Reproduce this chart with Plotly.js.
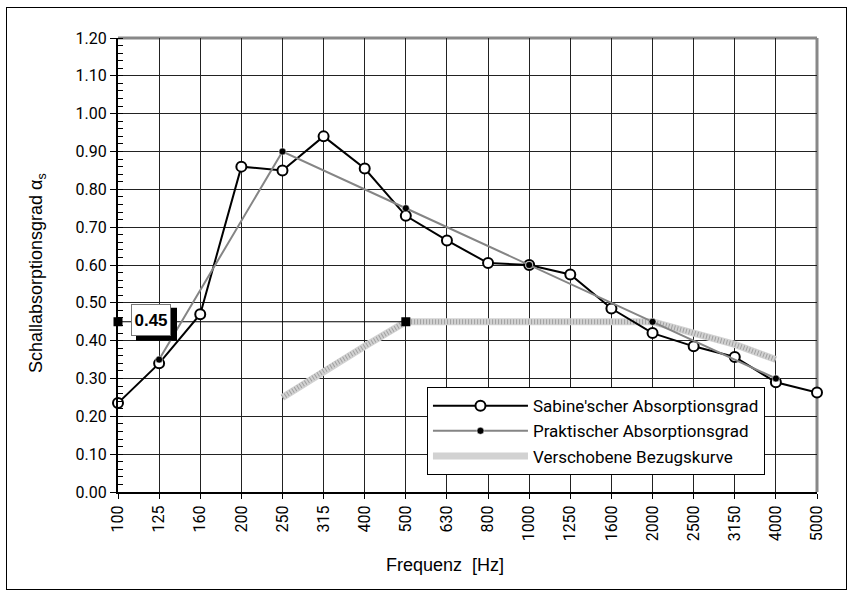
<!DOCTYPE html>
<html>
<head>
<meta charset="utf-8">
<script src="https://cdn.plot.ly/plotly-3.0.1.min.js"></script>
<style>
  html, body { margin:0; padding:0; background:#fff; }
  #wrap { position:relative; width:849px; height:592px; }
  #chart { position:absolute; left:0; top:0; width:849px; height:592px; }
  #frame { position:absolute; left:6px; top:7px; width:839px; height:581px; border:1px solid #000; pointer-events:none; }
</style>
</head>
<body>
<div id="wrap"><div id="chart"></div><div id="frame"></div></div>
<script>
// ---- data ----
const freqs = ['100','125','160','200','250','315','400','500','630','800','1000','1250','1600','2000','2500','3150','4000','5000'];
const sabineX = ['100','125','160','200','250','315','400','500','630','800','1000','1250','1600','2000','2500','3150','4000','5000'];
const sabineY = [0.235,0.34,0.47,0.86,0.85,0.94,0.855,0.73,0.665,0.605,0.60,0.575,0.485,0.42,0.385,0.357,0.29,0.263];
const praktX = ['125','250','500','1000','2000','4000'];
const praktY = [0.35,0.90,0.75,0.60,0.45,0.30];
const bezugX = ['250','315','400','500','630','800','1000','1250','1600','2000','2500','3150','4000'];
const bezugY = [0.25,0.32,0.385,0.45,0.45,0.45,0.45,0.45,0.45,0.45,0.42,0.39,0.35];
const refX = ['100','500'];
const refY = [0.45,0.45];
const refLabel = '0.45';
const yTicks = [0,0.1,0.2,0.3,0.4,0.5,0.6,0.7,0.8,0.9,1.0,1.1,1.2];

const narrow = 'Roboto, "Liberation Sans", sans-serif';
const arial = '"Liberation Sans", Arial, sans-serif';
const refIdx = freqs.indexOf(refX[0]);

const traces = [
  { x: bezugX, y: bezugY, type:'scatter', mode:'lines', name:'Verschobene Bezugskurve',
    line:{color:'#d2d2d2', width:7}, legendrank:3, cliponaxis:false },
  { x: bezugX, y: bezugY, type:'scatter', mode:'lines', showlegend:false, hoverinfo:'skip',
    line:{color:'#a0a0a0', width:5, dash:'1px,2px'}, cliponaxis:false },
  { x: refX, y: refY, type:'scatter', mode:'lines+markers', showlegend:false,
    line:{color:'#000', width:1}, marker:{symbol:'square', size:9, color:'#000'}, cliponaxis:false },
  { x: sabineX, y: sabineY, type:'scatter', mode:'lines+markers', name:"Sabine'scher Absorptionsgrad",
    line:{color:'#000', width:2}, marker:{symbol:'circle', size:10, color:'#fff', line:{color:'#000', width:2}},
    legendrank:1, cliponaxis:false },
  { x: praktX, y: praktY, type:'scatter', mode:'lines+markers', name:'Praktischer Absorptionsgrad',
    line:{color:'#858585', width:2}, marker:{symbol:'circle', size:7, color:'#000', line:{color:'#fff', width:0.5}},
    legendrank:2, cliponaxis:false }
];

const layout = {
  width:849, height:592,
  margin:{l:118, r:32, t:38, b:100, pad:0},
  paper_bgcolor:'#fff', plot_bgcolor:'#fff',
  showlegend:true,
  legend:{x:0.442, y:0.231, xanchor:'left', yanchor:'top', bgcolor:'#fff', bordercolor:'#000', borderwidth:1,
          font:{family:narrow, size:17, color:'#000'}, traceorder:'normal', tracegroupgap:0, itemwidth:95},
  xaxis:{type:'category', categoryorder:'array', categoryarray:freqs, range:[0,17],
         tickangle:-90, tickfont:{family:narrow, size:16, color:'#000'},
         showgrid:true, gridcolor:'#222', gridwidth:1,
         showline:true, linecolor:'#000', linewidth:2,
         ticks:'outside', ticklen:5, tickcolor:'#000', tickwidth:1, zeroline:false, fixedrange:true},
  yaxis:{range:[0,1.2], tickvals:yTicks, tickformat:'.2f', tickfont:{family:narrow, size:16, color:'#000'},
         showgrid:true, gridcolor:'#222', gridwidth:1,
         showline:true, linecolor:'#000', linewidth:2,
         ticks:'outside', ticklen:6, tickcolor:'#000', tickwidth:1, zeroline:false,
         minor:{dtick:0.02, ticks:'inside', ticklen:5, tickcolor:'#000', tickwidth:1, showgrid:false},
         fixedrange:true},
  shapes:[
    {type:'line', xref:'paper', yref:'paper', x0:0, x1:1, y0:1, y1:1, line:{color:'#888', width:3}, layer:'between'},
    {type:'line', xref:'paper', yref:'paper', x0:1, x1:1, y0:0, y1:1, line:{color:'#888', width:3}, layer:'between'},
    // drop shadow of the value label box
    {type:'rect', xref:'x', yref:'y', xsizemode:'pixel', ysizemode:'pixel', xanchor:refIdx, yanchor:refY[0],
     x0:18, x1:59, y0:-19, y1:14, fillcolor:'#000', line:{width:0}, layer:'above'}
  ],
  annotations:[
    {xref:'x', yref:'y', x:refIdx, y:refY[0], text:'<b>'+refLabel+'</b>', showarrow:false, xshift:33, yshift:2,
     font:{family:arial, size:17, color:'#000'}, bgcolor:'#fff', width:38, height:30, borderpad:0,
     bordercolor:'#777', borderwidth:1},
    {xref:'paper', yref:'paper', x:0.468, y:-0.161, xanchor:'center', yanchor:'middle', showarrow:false,
     text:'Frequenz\u00a0\u00a0[Hz]', font:{family:arial, size:18, color:'#000'}},
    {xref:'paper', yref:'paper', x:-0.116, y:0.482, xanchor:'center', yanchor:'middle', showarrow:false, textangle:-90,
     text:'Schallabsorptionsgrad α<sub>s</sub>', font:{family:arial, size:18, color:'#000'}}
  ]
};

Plotly.newPlot('chart', traces, layout, {displayModeBar:false, staticPlot:true});
</script>
</body>
</html>
